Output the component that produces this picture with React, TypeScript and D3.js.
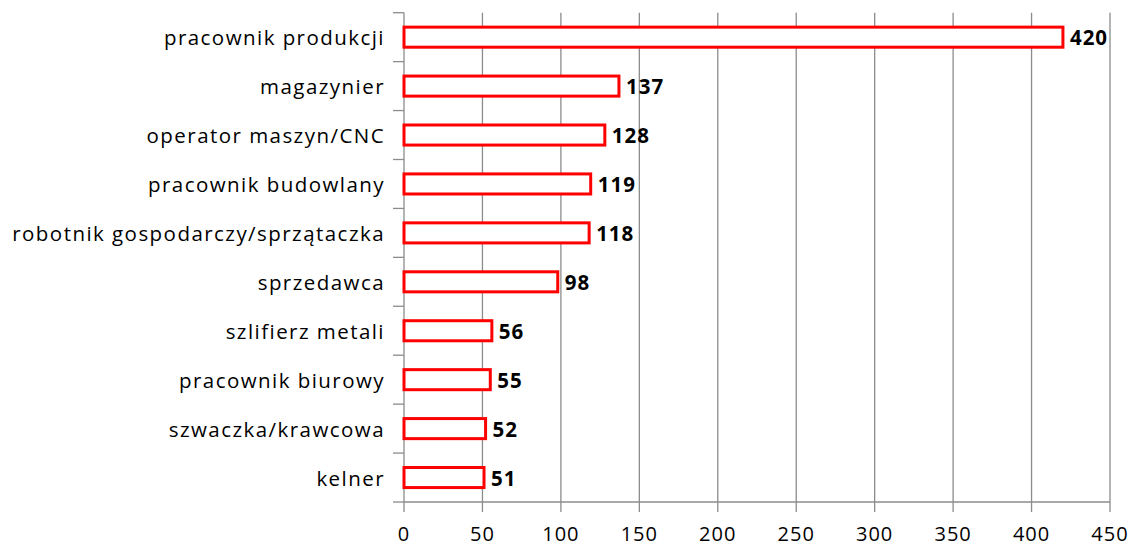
import React from "react";
import * as d3 from "d3";

const categories = [
  "pracownik produkcji",
  "magazynier",
  "operator maszyn/CNC",
  "pracownik budowlany",
  "robotnik gospodarczy/sprzątaczka",
  "sprzedawca",
  "szlifierz metali",
  "pracownik biurowy",
  "szwaczka/krawcowa",
  "kelner",
];
const values = [420, 137, 128, 119, 118, 98, 56, 55, 52, 51];
const xTicks = [0, 50, 100, 150, 200, 250, 300, 350, 400, 450];

const W = 1136;
const H = 548;
const left = 404;
const right = 1110;
const top = 12.7;
const bottom = 502;
const font = "'Open Sans', sans-serif";

export default function App() {
  const x = d3.scaleLinear().domain([0, 450]).range([left, right]);
  const y = d3.scaleBand<string>().domain(categories).range([top, bottom]);
  const bw = y.bandwidth();
  const barH = bw * 0.41;
  const grid = "#8c8c8c";
  const bounds = [...categories.map((c) => y(c)!), bottom];
  return (
    <svg width={W} height={H} style={{ position: "absolute", left: 0, top: 0 }}>
      <rect width={W} height={H} fill="#fff" />
      {xTicks.map((t) => (
        <line key={"g" + t} x1={x(t)} x2={x(t)} y1={top} y2={bottom + 10} stroke={grid} strokeWidth={1.3} />
      ))}
      <line x1={left} x2={right} y1={bottom} y2={bottom} stroke={grid} strokeWidth={1.3} />
      {bounds.map((b, i) => (
        <line key={"t" + i} x1={left - 11} x2={left} y1={b} y2={b} stroke={grid} strokeWidth={1.3} />
      ))}
      {categories.map((c, i) => {
        const yc = y(c)! + bw / 2;
        return (
          <g key={c}>
            <rect
              x={x(0)}
              y={yc - barH / 2}
              width={x(values[i]) - x(0)}
              height={barH}
              fill="#fff"
              stroke="#ff0000"
              strokeWidth={3}
            />
            <text x={385} y={yc + 8} textAnchor="end" fontFamily={font} fontSize={20.5} letterSpacing={1.45} fill="#000">
              {c}
            </text>
            <text x={x(values[i]) + 7} y={yc + 8} fontFamily={font} fontSize={20.5} letterSpacing={1} fontWeight="bold" fill="#000">
              {values[i]}
            </text>
          </g>
        );
      })}
      {xTicks.map((t) => (
        <text key={"l" + t} x={x(t)} y={541} textAnchor="middle" fontFamily={font} fontSize={20} letterSpacing={1} fill="#000">
          {t}
        </text>
      ))}
    </svg>
  );
}
